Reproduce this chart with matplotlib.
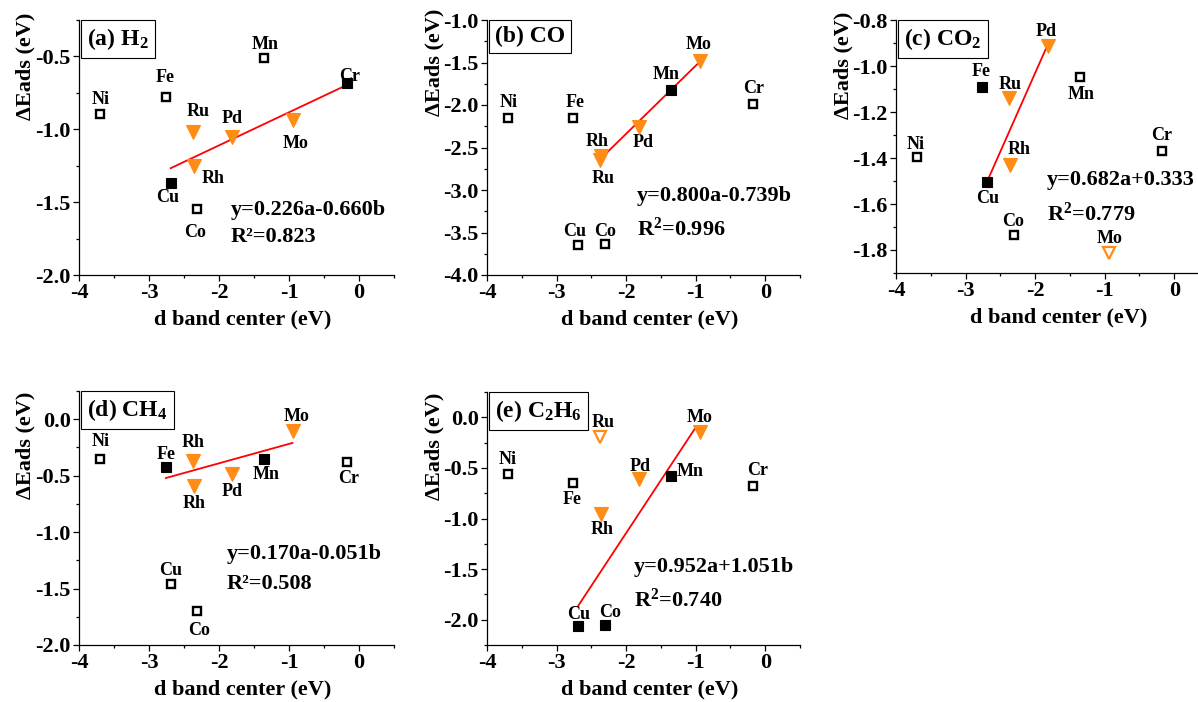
import matplotlib

matplotlib.use("Agg")
import matplotlib.pyplot as plt

plt.rcParams["font.family"] = ["Liberation Serif", "DejaVu Serif"]
plt.rcParams["font.weight"] = "bold"
plt.rcParams["mathtext.fontset"] = "custom"
plt.rcParams["mathtext.rm"] = "Liberation Serif:bold"
plt.rcParams["mathtext.bf"] = "Liberation Serif:bold"
plt.rcParams["mathtext.it"] = "Liberation Serif:bold"
plt.rcParams["axes.unicode_minus"] = False

ORANGE = "#FF8C14"

# shared element order and d band centers (eV)
elements = ["Ni", "Fe", "Mn", "Cr", "Cu", "Co", "Ru", "Rh", "Pd", "Mo"]
d_center = [-3.70, -2.76, -1.36, -0.17, -2.69, -2.31, -2.37, -2.36, -1.82, -0.94]

# adsorption energies per molecule (eV)
eads_h2 = [-0.896, -0.777, -0.514, -0.683, -1.366, -1.546, -1.020, -1.251, -1.054, -0.935]
eads_co = [-2.148, -2.148, -1.818, -1.983, -3.650, -3.639, -2.650, -2.604, -2.254, -1.488]
eads_co2 = [-1.395, -1.090, -1.050, -1.368, -1.504, -1.735, -1.141, -1.431, -0.913, -1.812]
eads_ch4 = [-0.350, -0.424, -0.350, -0.377, -1.464, -1.700, -0.371, -0.589, -0.489, -0.103]
eads_c2h6 = [-0.557, -0.652, -0.577, -0.682, -2.066, -2.049, -0.190, -0.954, -0.613, -0.144]

# marker kind: os open square, fs filled square, tri orange triangle, otri open orange triangle
kind_h2 = ["os", "os", "os", "fs", "fs", "os", "tri", "tri", "tri", "tri"]
kind_co = ["os", "os", "fs", "os", "os", "os", "tri", "tri", "tri", "tri"]
kind_co2 = ["os", "fs", "os", "os", "fs", "os", "tri", "tri", "tri", "otri"]
kind_ch4 = ["os", "fs", "fs", "os", "os", "os", "tri", "tri", "tri", "tri"]
kind_c2h6 = ["os", "os", "fs", "os", "fs", "fs", "otri", "tri", "tri", "tri"]

# point labels as printed (CH4 panel shows "Rh" twice)
labels_ch4 = ["Ni", "Fe", "Mn", "Cr", "Cu", "Co", "Rh", "Rh", "Pd", "Mo"]

# fitted line end points
fit_h2 = ([-2.69, -0.17], [-1.267, -0.695])
fit_co = ([-2.37, -0.94], [-2.635, -1.490])
fit_co2 = ([-2.69, -1.82], [-1.502, -0.908])
fit_ch4 = ([-2.76, -0.95], [-0.521, -0.210])
fit_c2h6 = ([-2.695, -0.99], [-1.869, -0.090])

titles = [r"(a) H$_2$", "(b) CO", r"(c) CO$_2$", r"(d) CH$_4$", r"(e) C$_2$H$_6$"]
equations = ["y=0.226a-0.660b", "y=0.800a-0.739b", "y=0.682a+0.333",
             "y=0.170a-0.051b", "y=0.952a+1.051b"]
r2_texts = ["R²=0.823", r"R$^2$=0.996", r"R$^2$=0.779", "R²=0.508", r"R$^2$=0.740"]

# layout (pixel based) -----------------------------------------------------
W, H = 1198, 702
rects_px = [(79, 20, 394, 275), (487, 20, 800, 275), (896, 20, 1209, 273),
            (79, 391, 394, 645), (487, 392, 800, 645)]
ylims = [(-2.0, -0.25), (-4.0, -1.0), (-1.9, -0.8), (-2.0, 0.25), (-2.25, 0.25)]
ymajor = [0.5, 0.5, 0.2, 0.5, 0.5]
eq_pos = [(0.482, 0.255, 0.150), (0.479, 0.311, 0.179), (0.481, 0.369, 0.232),
          (0.469, 0.357, 0.240), (0.469, 0.307, 0.176)]
ylab_y = [0.82, 0.835, 0.82, 0.787, 0.786]

# label offsets in pixels (dx, dy) per element
offsets = [
    [(1, 15), (-1, 19), (1, 14), (3, 7), (-3, -15), (-2, -24), (5, 21), (19, -13), (1, 19), (2, -24)],
    [(1, 15), (2, 15), (-4, 15), (0, 15), (-3, 14), (1, 13), (3, -18), (-4, 15), (5, -16), (-1, 17)],
    [(-1, 12), (-1, 15), (2, -17), (-1, 15), (1, -17), (0, 14), (1, 14), (9, 16), (-1, 14), (1, 14)],
    [(1, 17), (0, 13), (2, -16), (2, -17), (0, 14), (2, -19), (0, 19), (0, -18), (1, -17), (3, 14)],
    [(0, 14), (-1, -16), (20, 4), (4, 16), (1, 12), (6, 12), (3, 14), (1, -16), (2, 13), (0, 14)],
]

panels = [
    (eads_h2, kind_h2, elements, fit_h2),
    (eads_co, kind_co, elements, fit_co),
    (eads_co2, kind_co2, elements, fit_co2),
    (eads_ch4, kind_ch4, labels_ch4, fit_ch4),
    (eads_c2h6, kind_c2h6, elements, fit_c2h6),
]

marker_style = {
    "os": dict(marker="s", ms=6, mfc="white", mec="black", mew=1.7),
    "fs": dict(marker="s", ms=6.5, mfc="black", mec="black", mew=0.8),
    "tri": dict(marker="v", ms=9.5, mfc=ORANGE, mec=ORANGE, mew=0.8),
    "otri": dict(marker="v", ms=8, mfc="white", mec=ORANGE, mew=1.6),
}

fig = plt.figure(figsize=(W / 100, H / 100), dpi=100)

for i, (vals, kinds, labs, fit) in enumerate(panels):
    x0, y0, x1, y1 = rects_px[i]
    ax = fig.add_axes([x0 / W, (H - y1) / H, (x1 - x0) / W, (y1 - y0) / H])

    ax.plot(fit[0], fit[1], color="red", lw=1.3, zorder=3)
    for x, y, k, lab, off in zip(d_center, vals, kinds, labs, offsets[i]):
        ax.plot([x], [y], linestyle="none", zorder=4, **marker_style[k])
        ax.annotate(lab, (x, y), xytext=off, textcoords="offset pixels",
                    ha="center", va="center", fontsize=13, fontweight="bold")

    ax.set_xlim(-4, 0.5)
    ax.set_ylim(*ylims[i])
    ax.xaxis.set_major_locator(matplotlib.ticker.MultipleLocator(1))
    ax.xaxis.set_minor_locator(matplotlib.ticker.MultipleLocator(0.5))
    ax.yaxis.set_major_locator(matplotlib.ticker.MultipleLocator(ymajor[i]))
    ax.yaxis.set_minor_locator(matplotlib.ticker.MultipleLocator(ymajor[i] / 2))
    ax.yaxis.set_major_formatter(matplotlib.ticker.FormatStrFormatter("%.1f"))
    ax.tick_params(which="major", direction="out", length=4, width=0.9,
                   labelsize=16, pad=2)
    ax.tick_params(which="minor", direction="out", length=2.5, width=0.9)
    for lbl in ax.get_xticklabels() + ax.get_yticklabels():
        lbl.set_fontweight("bold")
    for side in ("top", "right"):
        ax.spines[side].set_visible(False)
    for side in ("left", "bottom"):
        ax.spines[side].set_linewidth(0.9)

    ax.set_xlabel("d band center (eV)", fontsize=16, fontweight="bold")
    ax.set_ylabel("ΔEads (eV)", fontsize=16, fontweight="bold")
    ax.xaxis.set_label_coords(0.52, -0.135)
    ax.yaxis.set_label_coords(-0.137, ylab_y[i])

    ax.annotate(titles[i], (0, 1), xycoords="axes fraction", xytext=(6, -4.5),
                textcoords="offset points", ha="left", va="top",
                fontsize=17, fontweight="bold",
                bbox=dict(boxstyle="square,pad=0.25", fc="white", ec="black", lw=0.8))

    ex, ey, ry = eq_pos[i]
    ax.text(ex, ey, equations[i], transform=ax.transAxes, ha="left", va="center",
            fontsize=16, fontweight="bold")
    ax.text(ex, ry, r2_texts[i], transform=ax.transAxes, ha="left", va="center",
            fontsize=16, fontweight="bold")

fig.savefig("out.png", dpi=100)
